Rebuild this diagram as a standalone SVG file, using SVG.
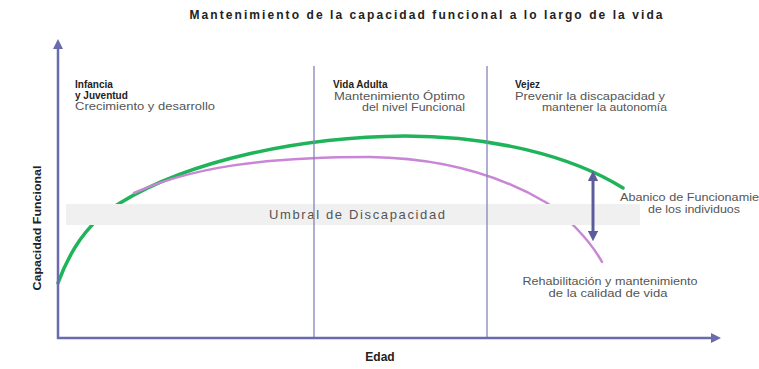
<svg xmlns="http://www.w3.org/2000/svg" width="759" height="369" viewBox="0 0 759 369">
<defs>
<style>
.t{font-family:"Liberation Sans",Arial,sans-serif;fill:#333;}
.b{font-weight:bold;fill:#222;}
.s{font-size:10px;}
.g{fill:#555;}
.axis{stroke:#6a6aae;stroke-width:2.5;fill:none;}
.sep{stroke:#8484bb;stroke-width:1.3;fill:none;}
.green{stroke:#1fb45a;stroke-width:3.5;fill:none;stroke-linecap:round;}
.purple{stroke:#c986d6;stroke-width:2.5;fill:none;stroke-linecap:round;}
</style>
<marker id="ah" viewBox="0 0 10 10" refX="5" refY="5" markerWidth="4" markerHeight="4" orient="auto-start-reverse">
<path d="M0,0 L10,5 L0,10 z" fill="#6a6aae"/>
</marker>
<marker id="ah2" viewBox="0 0 10 10" refX="5" refY="5" markerWidth="3.5" markerHeight="3.5" orient="auto-start-reverse">
<path d="M0,0 L10,5 L0,10 z" fill="#5c5c9c"/>
</marker>
</defs>
<rect width="759" height="369" fill="#fff"/>
<text class="t b" x="426" y="19" font-size="12" text-anchor="middle" textLength="473" lengthAdjust="spacing">Mantenimiento de la capacidad funcional a lo largo de la vida</text>
<g id="curves">
<path id="green-curve" class="green" d="M58,283 C70,250 90,220 120,203 C190,160 300,137 405,136 C490,136 570,155 623,188"/>
<path id="purple-curve" class="purple" d="M134,193 C190,168 260,157 370,157 C440,158 500,175 547,203 C565,215 590,240 602,262"/>
</g>
<g id="threshold">
<rect x="66" y="204" width="574" height="21" fill="#f0f0f0"/>
<text class="t g" x="357" y="219" font-size="13" text-anchor="middle" textLength="176" lengthAdjust="spacing">Umbral de Discapacidad</text>
</g>
<g id="connectors">
<line class="sep" x1="314" y1="66" x2="314" y2="338"/>
<line class="sep" x1="487" y1="66" x2="487" y2="338"/>
<line class="axis" x1="58" y1="339" x2="58" y2="44" marker-end="url(#ah)"/>
<line class="axis" x1="57" y1="338" x2="716" y2="338" marker-end="url(#ah)"/>
<line x1="593" y1="176" x2="593" y2="236" stroke="#5c5c9c" stroke-width="3" marker-start="url(#ah2)" marker-end="url(#ah2)"/>
</g>
<g id="infancia">
<text class="t b s" x="75" y="88">Infancia</text>
<text class="t b s" x="75" y="99">y Juventud</text>
<text class="t s g" x="75" y="110" textLength="140" lengthAdjust="spacingAndGlyphs">Crecimiento y desarrollo</text>
</g>
<g id="adulta">
<text class="t b s" x="333" y="88">Vida Adulta</text>
<text class="t s g" x="465" y="100" text-anchor="end" textLength="131" lengthAdjust="spacingAndGlyphs">Mantenimiento Óptimo</text>
<text class="t s g" x="465" y="111" text-anchor="end" textLength="103" lengthAdjust="spacingAndGlyphs">del nivel Funcional</text>
</g>
<g id="vejez">
<text class="t b s" x="515" y="88">Vejez</text>
<text class="t s g" x="515" y="100" textLength="150" lengthAdjust="spacingAndGlyphs">Prevenir la discapacidad y</text>
<text class="t s g" x="542" y="111" textLength="125" lengthAdjust="spacingAndGlyphs">mantener la autonomía</text>
</g>
<g id="abanico">
<text class="t s g" x="620" y="201" textLength="139" lengthAdjust="spacingAndGlyphs">Abanico de Funcionamie</text>
<text class="t s g" x="694" y="213" text-anchor="middle" textLength="92" lengthAdjust="spacingAndGlyphs">de los individuos</text>
</g>
<g id="rehabilitacion">
<text class="t s g" x="610" y="285" text-anchor="middle" textLength="175" lengthAdjust="spacingAndGlyphs">Rehabilitación y mantenimiento</text>
<text class="t s g" x="608" y="297" text-anchor="middle" textLength="119" lengthAdjust="spacingAndGlyphs">de la calidad de vida</text>
</g>
<g id="ylabel">
<text class="t b" font-size="11" transform="translate(41,228) rotate(-90)" text-anchor="middle" textLength="125" lengthAdjust="spacingAndGlyphs">Capacidad Funcional</text>
</g>
<g id="xlabel">
<text class="t b" font-size="12" x="380" y="361" text-anchor="middle">Edad</text>
</g>
</svg>
